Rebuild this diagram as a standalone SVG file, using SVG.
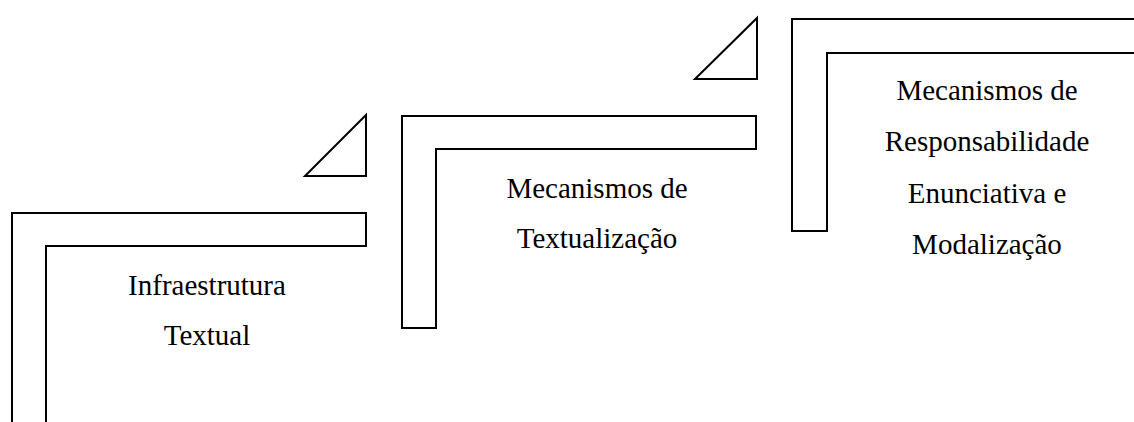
<svg xmlns="http://www.w3.org/2000/svg" width="1134" height="422" viewBox="0 0 1134 422">
<style>
.shape{fill:none;stroke:#000;stroke-width:2;stroke-linejoin:miter}
.lbl{font-family:"Liberation Serif","Times New Roman",serif;font-size:29px;fill:#000;text-anchor:middle}
</style>
<rect width="1134" height="422" fill="#fff"/>
<g id="node-infraestrutura">
<path class="shape" d="M46,422 V246 H366 V213 H12 V422"/>
<polygon class="shape" points="366,115 366,176 305,176"/>
<text class="lbl" x="207" y="295">Infraestrutura</text>
<text class="lbl" x="207" y="345">Textual</text>
</g>
<g id="node-textualizacao">
<polygon class="shape" points="402,116 756,116 756,149 436,149 436,328 402,328"/>
<polygon class="shape" points="757,18 757,79 695,79"/>
<text class="lbl" x="597" y="198">Mecanismos de</text>
<text class="lbl" x="597" y="248">Textualização</text>
</g>
<g id="node-responsabilidade">
<path class="shape" d="M1135,19 H792 V231 H827 V53 H1135"/>
<text class="lbl" x="987" y="100">Mecanismos de</text>
<text class="lbl" x="987" y="151">Responsabilidade</text>
<text class="lbl" x="987" y="203">Enunciativa e</text>
<text class="lbl" x="987" y="254">Modalização</text>
</g>
<g id="connectors"></g>
</svg>
